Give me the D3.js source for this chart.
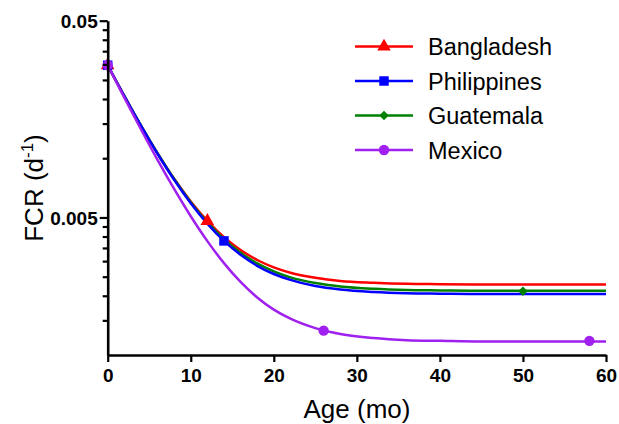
<!DOCTYPE html>
<html><head><meta charset="utf-8">
<script src="https://cdn.jsdelivr.net/npm/d3@7"></script>
<style>body{margin:0;background:#fff} svg{display:block}</style>
</head><body>
<svg id="c" width="619" height="424"></svg>
<script>
const ages = [0, 2, 4, 6, 8, 10, 12, 14, 16, 18, 20, 22, 25, 28, 32, 36, 40, 45, 50, 55, 60];
const bangladesh  = [0.0297, 0.0207, 0.01465, 0.01059, 0.00786, 0.00603, 0.0048, 0.00397, 0.00342, 0.00304, 0.00279, 0.00262, 0.00247, 0.00238, 0.00233, 0.0023, 0.00229, 0.00228, 0.00228, 0.00228, 0.00228];
const philippines = [0.0297, 0.0207, 0.01464, 0.01054, 0.00777, 0.00591, 0.00465, 0.0038, 0.00323, 0.00284, 0.00258, 0.00241, 0.00224, 0.00215, 0.00209, 0.00206, 0.00205, 0.00204, 0.00204, 0.00204, 0.00204];
const guatemala   = [0.0297, 0.02073, 0.01468, 0.0106, 0.00784, 0.00598, 0.00472, 0.00388, 0.00331, 0.00292, 0.00266, 0.00248, 0.00232, 0.00223, 0.00217, 0.00214, 0.00213, 0.00212, 0.00212, 0.00212, 0.00212];
const mexico      = [0.0297, 0.02033, 0.01404, 0.00981, 0.00698, 0.00507, 0.00379, 0.00293, 0.00235, 0.00196, 0.0017, 0.00153, 0.00137, 0.00128, 0.00122, 0.00119, 0.00118, 0.00117, 0.00117, 0.00117, 0.00117];

// Observed data points (markers)
const bangladeshPtAges = [0, 12],      bangladeshPtVals = [0.0297, 0.0048];
const philippinesPtAges = [0, 14],     philippinesPtVals = [0.0297, 0.0038];
const guatemalaPtAges = [0, 50],       guatemalaPtVals = [0.0297, 0.00211];
const mexicoPtAges = [0, 26, 58],      mexicoPtVals = [0.0297, 0.00133, 0.00118];

const countries = ["Bangladesh", "Philippines", "Guatemala", "Mexico"];
const xTicks = [0, 10, 20, 30, 40, 50, 60];
const yMajorTicks = [0.005, 0.05];
const yMinorTicks = [0.0015, 0.002, 0.0025, 0.003, 0.0035, 0.004, 0.0045, 0.01, 0.015, 0.02, 0.025, 0.03, 0.035, 0.04, 0.045];

const series = {
  Bangladesh:  {color: "#ff0000", sym: d3.symbolTriangle, size: 80, rot: 0,  vals: bangladesh,  pa: bangladeshPtAges,  pv: bangladeshPtVals},
  Philippines: {color: "#0000ff", sym: d3.symbolSquare,   size: 90, rot: 0,  vals: philippines, pa: philippinesPtAges, pv: philippinesPtVals},
  Guatemala:   {color: "#008000", sym: d3.symbolSquare,   size: 45, rot: 45, vals: guatemala,   pa: guatemalaPtAges,   pv: guatemalaPtVals},
  Mexico:      {color: "#a020f0", sym: d3.symbolCircle,   size: 85, rot: 0,  vals: mexico,      pa: mexicoPtAges,      pv: mexicoPtVals}
};
const drawOrder = ["Bangladesh", "Guatemala", "Philippines", "Mexico"];

const svg = d3.select("#c");
const x = d3.scaleLinear().domain([0, 60]).range([107.7, 606]);
const y = d3.scaleLog().domain([0.001, 0.05]).range([355, 20.7]);

const tickFont = "'Liberation Sans', Arial, sans-serif";

// Curves
const line = d3.line().x(d => x(d[0])).y(d => y(d[1])).curve(d3.curveMonotoneX);
drawOrder.forEach(name => {
  const s = series[name];
  svg.append("path")
    .datum(ages.map((a, i) => [a, s.vals[i]]))
    .attr("d", line).attr("fill", "none")
    .attr("stroke", s.color).attr("stroke-width", 2.5);
});
drawOrder.forEach(name => {
  const s = series[name];
  svg.selectAll(null).data(s.pa.map((a, i) => [a, s.pv[i]])).enter()
    .append("path")
    .attr("d", d3.symbol().type(s.sym).size(s.size))
    .attr("transform", d => `translate(${x(d[0])},${y(d[1])}) rotate(${s.rot})`)
    .attr("fill", s.color);
});

// Axes
const gx = svg.append("g").attr("transform", "translate(0,355)")
  .call(d3.axisBottom(x).tickValues(xTicks).tickSize(7).tickSizeOuter(0).tickFormat(d3.format("d")));
const gyMinor = svg.append("g").attr("transform", "translate(107.7,0)")
  .call(d3.axisLeft(y).tickValues(yMinorTicks).tickSize(5).tickSizeOuter(0).tickFormat(""));
gyMinor.select(".domain").remove();
const gy = svg.append("g").attr("transform", "translate(107.7,0)")
  .call(d3.axisLeft(y).tickValues(yMajorTicks).tickSize(8).tickSizeOuter(0).tickFormat(d => String(d)));

[gx, gy, gyMinor].forEach(g => {
  g.selectAll(".domain").attr("stroke", "#000").attr("stroke-width", 2.6);
  g.selectAll(".tick line").attr("stroke", "#000").attr("stroke-width", 2.2);
  g.selectAll(".tick text").attr("fill", "#000")
    .style("font-family", tickFont).style("font-weight", "bold").style("font-size", "19px");
});
gx.selectAll(".tick text").attr("dy", "0.9em").attr("y", 10);
gy.selectAll(".tick text").attr("x", -10).attr("dy", "0.35em");

// Axis titles
svg.append("text").attr("x", 357).attr("y", 418).attr("text-anchor", "middle")
  .style("font-family", tickFont).style("font-size", "26px").attr("fill", "#000")
  .text("Age (mo)");
const yt = svg.append("text").attr("transform", "translate(43,188) rotate(-90)")
  .attr("text-anchor", "middle")
  .style("font-family", tickFont).style("font-size", "26px").attr("fill", "#000");
yt.append("tspan").text("FCR (d");
yt.append("tspan").text("-1").style("font-size", "17px").attr("dy", -10);
yt.append("tspan").text(")").attr("dy", 10);

// Legend
const leg = svg.append("g");
countries.forEach((name, i) => {
  const s = series[name];
  const cy = 46.5 + i * 34.5;
  leg.append("line").attr("x1", 355).attr("x2", 413).attr("y1", cy).attr("y2", cy)
    .attr("stroke", s.color).attr("stroke-width", 2.5);
  leg.append("path").attr("d", d3.symbol().type(s.sym).size(s.size))
    .attr("transform", `translate(384,${cy}) rotate(${s.rot})`).attr("fill", s.color);
  leg.append("text").attr("x", 428).attr("y", cy + 8.5)
    .style("font-family", tickFont).style("font-size", "23.5px").attr("fill", "#000")
    .text(name);
});
</script>
</body></html>
